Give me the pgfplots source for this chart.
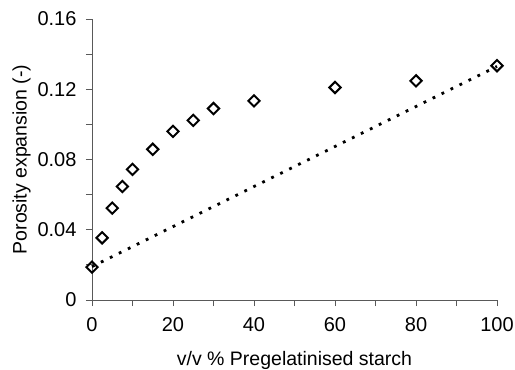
\documentclass[border=0pt]{standalone}
\usepackage{fontspec}
\setmainfont{Liberation Sans}
\usepackage{pgfplots}
\pgfplotsset{compat=1.18}
\begin{document}
\begin{tikzpicture}
\begin{axis}[
  scale only axis,
  width=405bp, height=281bp,
  xmin=0, xmax=100, ymin=0, ymax=0.16,
  axis lines=left,
  axis line style={-, draw=black!65, line width=0.9bp},
  tick style={draw=black!65, line width=0.9bp},
  tick align=outside,
  major tick length=6bp,
  minor tick length=6bp,
  xtick={0,20,...,100},
  minor xtick={10,30,50,70,90},
  ytick={0,0.04,0.08,0.12,0.16},
  minor ytick={0.02,0.06,0.10,0.14},
  yticklabels={0,0.04,0.08,0.12,0.16},
  scaled y ticks=false,
  /pgf/number format/assume math mode=true,
  tick label style={font=\fontsize{20bp}{22bp}\selectfont},
  xticklabel style={yshift=-8bp},
  yticklabel style={xshift=-6bp},
  label style={font=\fontsize{19.5bp}{22bp}\selectfont},
  xlabel={v/v \% Pregelatinised starch},
  ylabel={Porosity expansion (-)},
  xlabel style={yshift=-13bp},
  ylabel style={yshift=0bp},
  clip=false,
]
\addplot[black, line width=2.8bp, dash pattern=on 2.8bp off 7.2bp] coordinates {(0,0.019) (100,0.133)};
\addplot[only marks, mark=square, mark size=4bp, mark options={rotate=45, line width=2bp, draw=black, fill=white}]
coordinates {
(0,0.0187) (2.5,0.0354) (5,0.0523) (7.5,0.0646) (10,0.0744) (15,0.0858)
(20,0.0960) (25,0.1023) (30,0.1090) (40,0.1134) (60,0.1210) (80,0.1248) (100,0.1334)
};
\coordinate (SW) at (rel axis cs:0,0);
\coordinate (NE) at (rel axis cs:1,1);
\end{axis}
\pgfresetboundingbox
\path ([shift={(-92bp,-70bp)}]SW) rectangle ([shift={(18bp,19bp)}]NE);
\end{tikzpicture}
\end{document}
